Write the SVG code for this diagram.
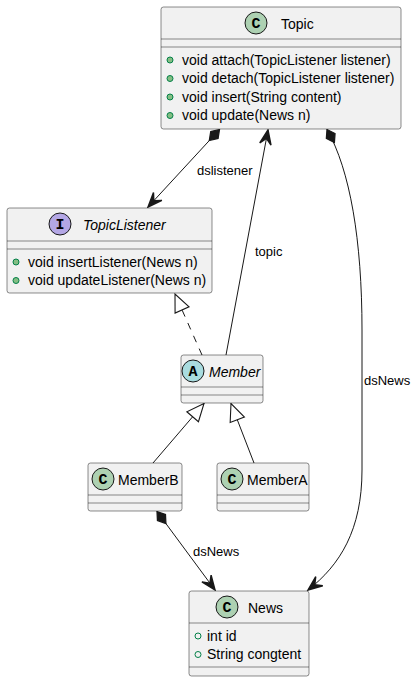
<svg xmlns="http://www.w3.org/2000/svg" width="417" height="681" viewBox="0 0 417 681">
<defs>
<style>
.box{fill:#F1F1F1;stroke:#181818;stroke-width:0.5}
.sep{stroke:#181818;stroke-width:0.5}
.name{font-family:"Liberation Sans",Arial,sans-serif;font-size:14px;fill:#000}
.it{font-style:italic}
.mem{font-family:"Liberation Sans",Arial,sans-serif;font-size:14px;fill:#000}
.lbl{font-family:"Liberation Sans",Arial,sans-serif;font-size:13px;fill:#000}
.ic{stroke:#181818;stroke-width:1}
.letter{font-family:"Liberation Mono","DejaVu Sans Mono",monospace;font-size:15px;font-weight:bold;fill:#000;text-anchor:middle}
.meth{fill:#84BE84;stroke:#038048;stroke-width:1}
.fld{fill:none;stroke:#038048;stroke-width:1}
.edge{fill:none;stroke:#181818;stroke-width:1}
.dash{stroke-dasharray:7,7}
</style>
<marker id="arr" markerUnits="userSpaceOnUse" markerWidth="20" markerHeight="20" viewBox="-12 -6 14 12" refX="0" refY="0" orient="auto" overflow="visible">
<path d="M0,0 L-10,-4 L-6,0 L-10,4 Z" fill="#181818" stroke="#181818" stroke-width="1"/>
</marker>
<marker id="dia" markerUnits="userSpaceOnUse" markerWidth="20" markerHeight="20" viewBox="-2 -6 16 12" refX="0" refY="0" orient="auto" overflow="visible">
<path d="M0,0 L6,-4 L12,0 L6,4 Z" fill="#181818" stroke="#181818" stroke-width="1"/>
</marker>
<marker id="tri" markerUnits="userSpaceOnUse" markerWidth="24" markerHeight="24" viewBox="-20 -10 22 20" refX="0" refY="0" orient="auto" overflow="visible">
<path d="M0,0 L-16,-7 L-16,7 Z" fill="#FFFFFF" stroke="#181818" stroke-width="1"/>
</marker>
</defs>
<g id="connectors">
<path class="edge" d="M219.5,129.5 L148,207" marker-start="url(#dia)" marker-end="url(#arr)"/>
<text class="lbl" x="197" y="175">dslistener</text>
<path class="edge" d="M226,355 L268,130" marker-end="url(#arr)"/>
<text class="lbl" x="255" y="256">topic</text>
<path class="edge dash" d="M202,355 L175,294" marker-end="url(#tri)"/>
<path class="edge" d="M153,463 L204,403.5" marker-end="url(#tri)"/>
<path class="edge" d="M254,463 L231,403.5" marker-end="url(#tri)"/>
<path class="edge" d="M157,511.5 L215,590" marker-start="url(#dia)" marker-end="url(#arr)"/>
<text class="lbl" x="193" y="556">dsNews</text>
<path class="edge" d="M327,129.5 C350,170 362,240 362,330 L362,470 C362,530 340,565 308,590" marker-start="url(#dia)" marker-end="url(#arr)"/>
<text class="lbl" x="364" y="385">dsNews</text>
</g>
<g id="Topic">
<rect class="box" x="161" y="7" width="240" height="122" rx="2.5"/>
<ellipse class="ic" cx="256" cy="23" rx="11" ry="11" fill="#ADD1B2"/>
<text class="letter" x="256" y="28">C</text>
<text class="name" x="281" y="28.5">Topic</text>
<line class="sep" x1="161" y1="39" x2="401" y2="39"/>
<line class="sep" x1="161" y1="47" x2="401" y2="47"/>
<circle class="meth" cx="170" cy="60" r="3"/>
<text class="mem" x="182" y="64.5">void attach(TopicListener listener)</text>
<circle class="meth" cx="170" cy="78.5" r="3"/>
<text class="mem" x="182" y="83">void detach(TopicListener listener)</text>
<circle class="meth" cx="170" cy="97" r="3"/>
<text class="mem" x="182" y="101.5">void insert(String content)</text>
<circle class="meth" cx="170" cy="115.5" r="3"/>
<text class="mem" x="182" y="120">void update(News n)</text>
</g>
<g id="TopicListener">
<rect class="box" x="7" y="208" width="205" height="85" rx="2.5"/>
<ellipse class="ic" cx="60" cy="224" rx="11" ry="11" fill="#B4A7E5"/>
<text class="letter" x="60" y="229">I</text>
<text class="name it" x="83" y="229.5">TopicListener</text>
<line class="sep" x1="7" y1="241" x2="212" y2="241"/>
<line class="sep" x1="7" y1="249" x2="212" y2="249"/>
<circle class="meth" cx="16" cy="262" r="3"/>
<text class="mem" x="28" y="266.5">void insertListener(News n)</text>
<circle class="meth" cx="16" cy="280.5" r="3"/>
<text class="mem" x="28" y="285">void updateListener(News n)</text>
</g>
<g id="Member">
<rect class="box" x="181" y="355" width="82" height="48" rx="2.5"/>
<ellipse class="ic" cx="193" cy="371" rx="11" ry="11" fill="#A9DCDF"/>
<text class="letter" x="193" y="376">A</text>
<text class="name it" x="209" y="376.5">Member</text>
<line class="sep" x1="181" y1="387" x2="263" y2="387"/>
<line class="sep" x1="181" y1="395" x2="263" y2="395"/>
</g>
<g id="MemberB">
<rect class="box" x="88" y="463" width="94" height="48" rx="2.5"/>
<ellipse class="ic" cx="103" cy="479" rx="11" ry="11" fill="#ADD1B2"/>
<text class="letter" x="103" y="484">C</text>
<text class="name" x="118" y="484.5">MemberB</text>
<line class="sep" x1="88" y1="495" x2="182" y2="495"/>
<line class="sep" x1="88" y1="503" x2="182" y2="503"/>
</g>
<g id="MemberA">
<rect class="box" x="217" y="463" width="92" height="48" rx="2.5"/>
<ellipse class="ic" cx="232" cy="479" rx="11" ry="11" fill="#ADD1B2"/>
<text class="letter" x="232" y="484">C</text>
<text class="name" x="247" y="484.5">MemberA</text>
<line class="sep" x1="217" y1="495" x2="309" y2="495"/>
<line class="sep" x1="217" y1="503" x2="309" y2="503"/>
</g>
<g id="News">
<rect class="box" x="189" y="591" width="120" height="85" rx="2.5"/>
<ellipse class="ic" cx="227" cy="607" rx="11" ry="11" fill="#ADD1B2"/>
<text class="letter" x="227" y="612">C</text>
<text class="name" x="248" y="612.5">News</text>
<line class="sep" x1="189" y1="623" x2="309" y2="623"/>
<circle class="fld" cx="198" cy="636" r="3"/>
<text class="mem" x="207" y="640.5">int id</text>
<circle class="fld" cx="198" cy="654.5" r="3"/>
<text class="mem" x="207" y="659">String congtent</text>
<line class="sep" x1="189" y1="667" x2="309" y2="667"/>
</g>
</svg>
